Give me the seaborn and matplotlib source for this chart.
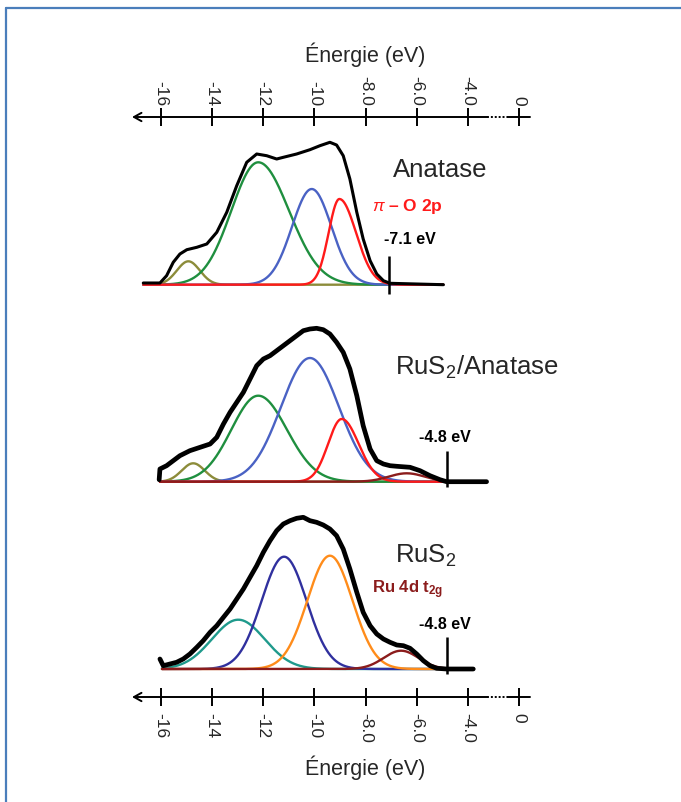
import numpy as np
import pandas as pd
import matplotlib.pyplot as plt
from matplotlib.lines import Line2D
import seaborn as sns

# energy scale (the last tick sits after the axis break and reads 0)
tick_pos = [-16, -14, -12, -10, -8, -6, -4, -2]
tick_labels = ['-16', '-14', '-12', '-10', '-8.0', '-6.0', '-4.0', '0']

# measured spectra, E in eV, intensity in arb. units
ana_E = [-16.68, -16.03, -15.77, -15.51, -15.25, -14.98, -14.59, -14.20, -13.81, -13.42,
         -13.03, -12.64, -12.25, -11.86, -11.47, -11.21, -10.69, -10.17, -9.78, -9.39,
         -9.13, -8.87, -8.61, -8.34, -8.09, -7.82, -7.56, -7.30, -7.04, -4.96]
ana_I = [1.7, 1.7, 9, 22.4, 30.7, 35, 37.4, 40.7, 52.4, 72.4,
         99, 122.4, 130.7, 129, 125.7, 127.4, 130.7, 135, 139, 142.4,
         139.7, 129, 105.7, 72.4, 45.7, 24, 10.7, 4, 1.4, 0]

mix_E = [-16.06, -16.03, -15.77, -15.51, -15.25, -14.86, -14.46, -14.07, -13.81, -13.55, -13.29,
         -13.03, -12.77, -12.51, -12.25, -11.99, -11.73, -11.47, -11.21, -10.95, -10.69,
         -10.43, -10.17, -9.91, -9.65, -9.39, -9.13, -8.87, -8.61, -8.34, -8.09,
         -7.82, -7.56, -7.30, -7.04, -6.78, -6.26, -5.87, -5.48, -5.09, -4.83, -3.27]
mix_I = [2, 12.7, 16, 21, 26, 31, 34.4, 37.7, 44.4, 57.7, 69.4,
         79.4, 89.4, 102.7, 116, 122.7, 126, 131, 136, 141, 146,
         151, 152.7, 153.4, 152, 147.7, 139.4, 129.4, 112.7, 86, 56,
         32.7, 21, 17.7, 16, 15.4, 14.4, 11, 6, 2, 0, 0]

rus_E = [-16.03, -15.90, -15.64, -15.38, -15.12, -14.86, -14.59, -14.34, -14.07, -13.81,
         -13.55, -13.29, -13.03, -12.77, -12.51, -12.25, -11.99, -11.73, -11.47, -11.21,
         -10.95, -10.69, -10.43, -10.17, -9.91, -9.65, -9.39, -9.13, -8.87, -8.61,
         -8.34, -8.09, -7.82, -7.56, -7.30, -7.04, -6.78, -6.52, -6.26, -6.00,
         -5.74, -5.48, -5.22, -4.83, -3.79]
rus_I = [10, 3.3, 5, 6.7, 10, 15, 21.7, 28.3, 36.7, 43.3,
         51.7, 60, 70, 80, 91.7, 103.3, 116.7, 128.3, 138.3, 145,
         148.3, 150.7, 151.7, 148.3, 146.7, 144, 140, 133.3, 120, 100,
         76.7, 56.7, 43.3, 35, 30, 26.7, 24, 23.3, 20.7, 15,
         8.3, 3.3, 0.7, 0, 0]

# fitted components: centre, height, width on the low / high energy side
ana_comp = ['olive', 'green', 'blue', 'red']
ana_centre = [-14.92, -12.19, -10.10, -9.02]
ana_height = [23.4, 122.4, 95.7, 85.7]
ana_wl = [0.45, 1.05, 0.77, 0.42]
ana_wr = [0.45, 1.20, 0.77, 0.65]

mix_comp = ['olive', 'green', 'blue', 'red', 'darkred']
mix_centre = [-14.73, -12.19, -10.17, -8.93, -6.39]
mix_height = [18.4, 86, 123.7, 62.7, 8.4]
mix_wl = [0.45, 1.05, 1.13, 0.53, 0.7]
mix_wr = [0.45, 1.12, 1.13, 0.66, 0.7]

rus_comp = ['teal', 'navy', 'orange', 'darkred']
rus_centre = [-12.97, -11.18, -9.39, -6.61]
rus_height = [49.3, 112.3, 113.3, 18.3]
rus_wl = [1.03, 0.88, 0.88, 0.68]
rus_wr = [1.03, 0.88, 0.88, 0.68]

palette = {'olive': '#8c8c3a', 'green': '#1f8f3f', 'blue': '#4a62c4', 'red': '#ff1a1a',
           'darkred': '#8b1c1c', 'teal': '#1f9a8c', 'navy': '#30309e', 'orange': '#ff8c1a'}


def components(names, centre, height, wl, wr, lo, hi, base):
    e = np.linspace(lo, hi, 500)
    parts = []
    for n, c, h, a, b in zip(names, centre, height, wl, wr):
        s = np.where(e < c, a, b)
        parts.append(pd.DataFrame({'E': e, 'y': base - h * np.exp(-0.5 * ((e - c) / s) ** 2), 'comp': n}))
    return pd.concat(parts, ignore_index=True)


sns.set_theme(style="white")
plt.rcParams['font.family'] = ['Liberation Sans', 'DejaVu Sans']
plt.rcParams['mathtext.fontset'] = 'custom'
plt.rcParams['mathtext.rm'] = 'Liberation Sans'
plt.rcParams['mathtext.it'] = 'Liberation Sans:italic'
plt.rcParams['mathtext.bf'] = 'Liberation Sans:bold'
plt.rcParams['mathtext.default'] = 'regular'

W, H = 681, 803
fig = plt.figure(figsize=(W / 100, H / 100), dpi=100)
ax = fig.add_axes([0, 0, 1, 1])

# pixel -> energy mapping of the drawing
def e_of(px):
    return -16 + (px - 160.7) / 25.6

ax.set_xlim(e_of(0), e_of(W))
ax.set_ylim(H, 0)
ax.axis('off')

panels = [
    (ana_E, ana_I, ana_comp, ana_centre, ana_height, ana_wl, ana_wr, -16.68, -4.96, 285.7, 2.2),
    (mix_E, mix_I, mix_comp, mix_centre, mix_height, mix_wl, mix_wr, -16.03, -3.27, 482.7, 3.4),
    (rus_E, rus_I, rus_comp, rus_centre, rus_height, rus_wl, rus_wr, -15.95, -3.79, 670.0, 3.4),
]
for E, I, comp, c, h, wl, wr, lo, hi, base, lw in panels:
    df_fit = components(comp, c, h, wl, wr, lo, hi, base)
    sns.lineplot(data=df_fit, x='E', y='y', hue='comp', palette=palette, estimator=None,
                 sort=False, legend=False, linewidth=1.7, ax=ax)
    df_meas = pd.DataFrame({'E': E, 'y': base - np.array(I)})
    sns.lineplot(data=df_meas, x='E', y='y', color='black', estimator=None, sort=False,
                 linewidth=lw, ax=ax)

# energy axes, top and bottom
for y_ax, top in [(118, True), (698, False)]:
    ax.annotate('', xy=(e_of(132), y_ax), xytext=(e_of(487), y_ax),
                arrowprops=dict(arrowstyle='->,head_length=0.45,head_width=0.25', lw=1.4, color='black',
                                shrinkA=0, shrinkB=0))
    ax.plot([e_of(487), e_of(508)], [y_ax, y_ax], color='black', lw=1.4, ls=(0, (1, 1)))
    ax.plot([e_of(508), e_of(530)], [y_ax, y_ax], color='black', lw=1.4)
    ax.vlines(tick_pos, y_ax - 9, y_ax + 9, color='black', lw=1.4)
    for p, lab in zip(tick_pos, tick_labels):
        if top:
            ax.text(p, y_ax - 12, lab, rotation=270, ha='center', va='bottom', fontsize=12.5)
        else:
            ax.text(p, y_ax + 15, lab, rotation=270, ha='center', va='top', fontsize=12.5)
    ax.text(-8, 55 if top else 768, 'Énergie (eV)', ha='center', va='center', fontsize=15.5)

# panel names and annotations
ax.text(-5.09, 170, 'Anatase', ha='center', va='center', fontsize=18.5)
ax.text(-3.64, 367, 'RuS$_2$/Anatase', ha='center', va='center', fontsize=18.5)
ax.text(-5.65, 556, 'RuS$_2$', ha='center', va='center', fontsize=18.5)

ax.text(-6.36, 207, r'$\mathit{\pi}$ – O 2p', ha='center', va='center', fontsize=12.5,
        fontweight='bold', color='#ff1a1a')
ax.text(-6.34, 590, 'Ru 4d t$_{2g}$', ha='center', va='center', fontsize=12,
        fontweight='bold', color='#8b1c1c')

for x_m, y_txt, y0, y1, lab in [(-7.1, 240, 257, 295, '-7.1 eV'),
                                 (-4.8, 438, 452, 488, '-4.8 eV'),
                                 (-4.8, 625, 638, 675, '-4.8 eV')]:
    ax.text(x_m + 0.82 if lab == '-7.1 eV' else x_m - 0.09, y_txt, lab, ha='center', va='center',
            fontsize=11.5, fontweight='bold', color='black')
    ax.vlines([x_m], y0, y1, color='black', lw=1.8)

# blue frame of the figure box
fig.add_artist(Line2D([6 / W, 6 / W], [0, 1 - 9 / H], color='#4a7ebb', lw=1.6))
fig.add_artist(Line2D([6 / W, 1], [1 - 9 / H, 1 - 9 / H], color='#4a7ebb', lw=1.6))

fig.savefig('out.png', dpi=100)
